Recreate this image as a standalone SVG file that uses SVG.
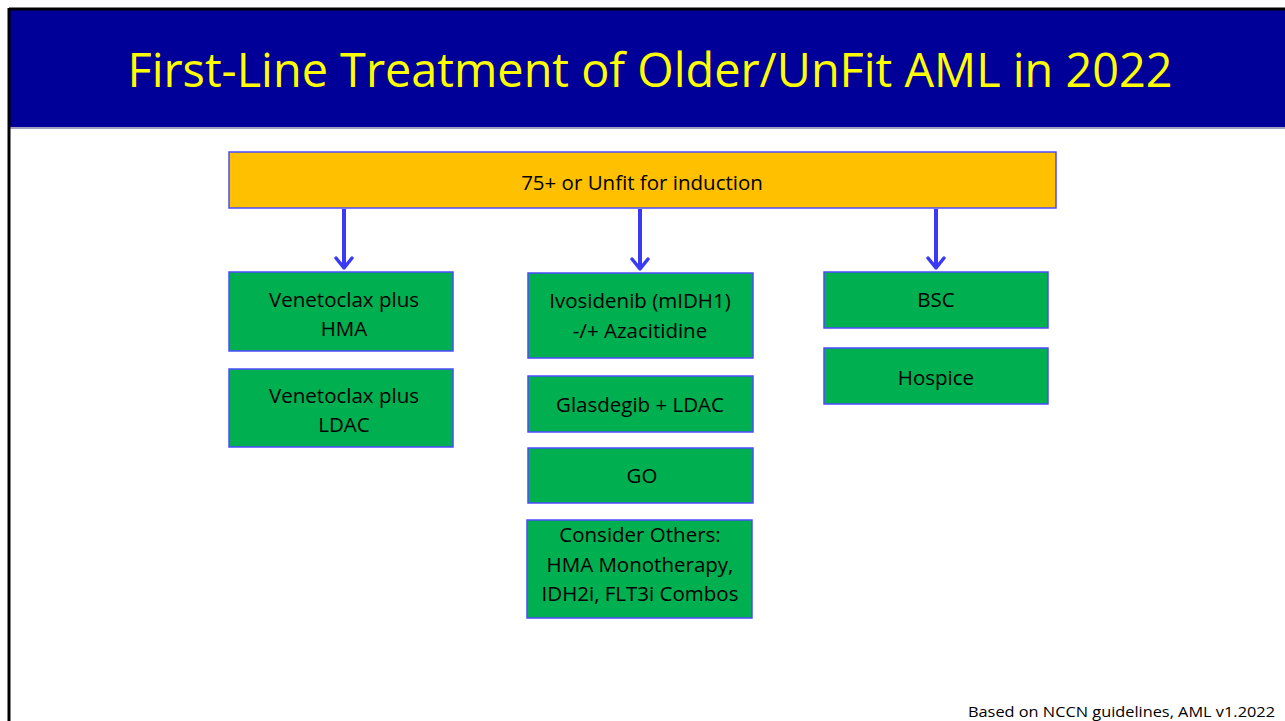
<svg xmlns="http://www.w3.org/2000/svg" width="1285" height="721" viewBox="0 0 1285 721">
<defs>
<style>
.box{fill:#00B050;stroke:#4B4BFF;stroke-width:1.5}
.top{fill:#FFC000;stroke:#4B4BFF;stroke-width:1.5}
.t{font-family:"Open Sans","Liberation Sans",Arial,sans-serif;font-size:20.5px;fill:#000;text-anchor:middle}
.conn{stroke:#3A3AF5;stroke-width:4;fill:none}
</style>
<marker id="ah" viewBox="0 0 14 20" refX="12" refY="10" markerWidth="14" markerHeight="20" markerUnits="userSpaceOnUse" orient="auto">
<path d="M2,2 L12,10 L2,18" fill="none" stroke="#3A3AF5" stroke-width="3.5" stroke-linecap="round" stroke-linejoin="round"/>
</marker>
</defs>
<rect width="1285" height="721" fill="#fff"/>
<rect x="10" y="10" width="1275" height="117" fill="#000099"/>
<line x1="10" y1="128" x2="1285" y2="128" stroke="#A0A0C0" stroke-width="2"/>
<line x1="9" y1="9" x2="1285" y2="9" stroke="#000" stroke-width="3"/>
<line x1="9" y1="8" x2="9" y2="721" stroke="#000" stroke-width="3"/>
<text x="650" y="87" font-family="Open Sans,Liberation Sans,sans-serif" font-size="47" fill="#FFFF00" text-anchor="middle" textLength="1045" lengthAdjust="spacingAndGlyphs">First-Line Treatment of Older/UnFit AML in 2022</text>

<g id="connectors">
<line class="conn" x1="344" y1="209" x2="344" y2="268" marker-end="url(#ah)"/>
<line class="conn" x1="640" y1="209" x2="640" y2="269" marker-end="url(#ah)"/>
<line class="conn" x1="936" y1="209" x2="936" y2="268" marker-end="url(#ah)"/>
</g>

<g id="root"><rect class="top" x="229" y="152" width="827" height="56"/><text class="t" x="642" y="190">75+ or Unfit for induction</text></g>

<g id="ven-hma"><rect class="box" x="229" y="272" width="224" height="79"/><text class="t" x="344" y="307">Venetoclax plus</text><text class="t" x="344" y="336">HMA</text></g>
<g id="ven-ldac"><rect class="box" x="229" y="369" width="224" height="78"/><text class="t" x="344" y="403">Venetoclax plus</text><text class="t" x="344" y="432">LDAC</text></g>

<g id="ivosidenib"><rect class="box" x="528" y="273" width="225" height="85"/><text class="t" x="640" y="308">Ivosidenib (mIDH1)</text><text class="t" x="640" y="338">-/+ Azacitidine</text></g>
<g id="glasdegib"><rect class="box" x="528" y="376" width="225" height="56"/><text class="t" x="640" y="412">Glasdegib + LDAC</text></g>
<g id="go"><rect class="box" x="528" y="448" width="225" height="55"/><text class="t" x="642" y="483">GO</text></g>
<g id="others"><rect class="box" x="527" y="520" width="225" height="98"/><text class="t" x="640" y="542">Consider Others:</text><text class="t" x="640" y="572">HMA Monotherapy,</text><text class="t" x="640" y="601">IDH2i, FLT3i Combos</text></g>

<g id="bsc"><rect class="box" x="824" y="272" width="224" height="56"/><text class="t" x="936" y="307">BSC</text></g>
<g id="hospice"><rect class="box" x="824" y="348" width="224" height="56"/><text class="t" x="936" y="385">Hospice</text></g>

<text x="1275" y="717" font-family="Open Sans,Liberation Sans,Arial,sans-serif" font-size="15" fill="#000" text-anchor="end" textLength="307" lengthAdjust="spacingAndGlyphs">Based on NCCN guidelines, AML v1.2022</text>
</svg>
